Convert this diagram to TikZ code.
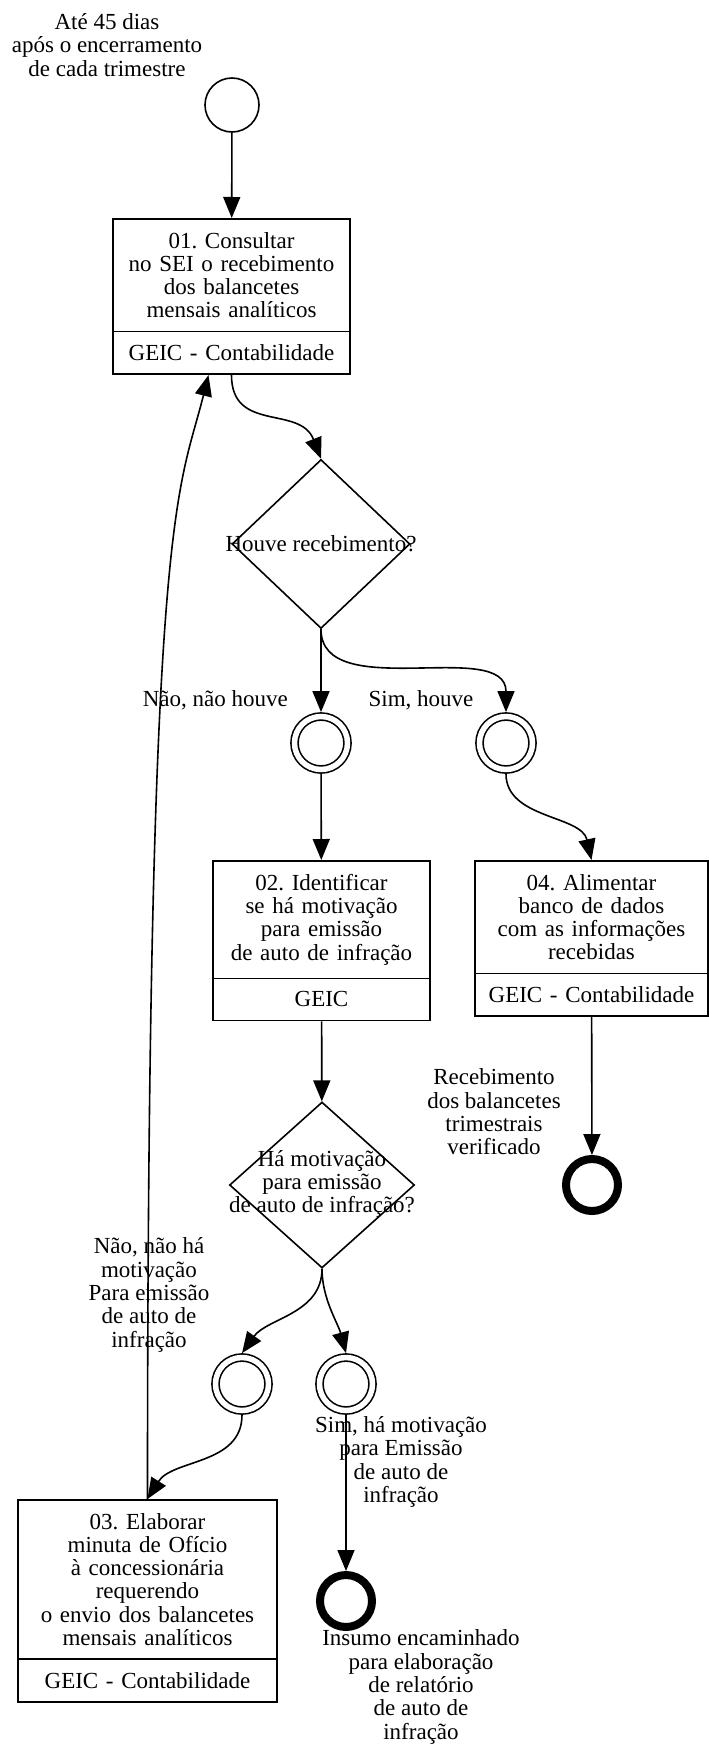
\documentclass[tikz,border=0pt]{standalone}
\usepackage{fontspec}
\setmainfont{Liberation Serif}
\usetikzlibrary{shapes.geometric,shapes.multipart,arrows.meta}
\frenchspacing

\begin{document}
\begin{tikzpicture}[x=1pt, y=-1pt,
    every node/.style={font=\fontsize{23}{23.3}\selectfont},
    tarefa/.style={draw, line width=1.6pt, rectangle split, rectangle split parts=2,
        align=center, inner xsep=6pt, inner ysep=12.5pt, anchor=north},
    decisao/.style={draw, line width=1.6pt, diamond, inner sep=0pt},
    inicio/.style={draw, circle, line width=1.6pt, minimum size=54pt, inner sep=0pt},
    intermed/.style={draw, circle, line width=1.6pt, double, double distance=5.5pt,
        minimum size=53pt, inner sep=0pt, outer sep=4.4pt},
    fim/.style={draw, circle, line width=8pt, minimum size=52pt, inner sep=0pt, outer sep=4pt},
    rotulo/.style={align=center, inner sep=0pt},
    seta/.style={line width=1.6pt, -{Triangle[length=21pt,width=17pt]}}]

            \useasboundingbox (0,0) rectangle (709,1753);

            \node[inicio] (S) at (232, 105) {};
            \node[rotulo] (L0) at (107, 45) {Até 45 dias\\após o encerramento\\de cada trimestre};

            \node[tarefa, text width=225pt] (T1) at (231.5, 218) {01. Consultar\\no SEI o recebimento\\dos balancetes\\mensais analíticos
                \nodepart{two} GEIC - Contabilidade};
            \node[decisao, minimum width=178pt, minimum height=169pt] (D1) at (321, 544) {\makebox[0pt]{Houve recebimento?}};

            \node[intermed] (G1) at (321, 743) {};
            \node[intermed] (G2) at (506, 743) {};
            \node[rotulo, anchor=east] (L1) at (288, 700) {Não, não houve};
            \node[rotulo] (L2) at (421, 700) {Sim, houve};

            \node[tarefa, text width=205pt] (T2) at (321.5, 860) {02. Identificar\\se há motivação\\para emissão\\de auto de infração
                \nodepart{two} GEIC};
            \node[tarefa, text width=221pt] (T4) at (591.5, 860) {04. Alimentar\\banco de dados\\com as informações\\recebidas
                \nodepart{two} GEIC - Contabilidade};

            \node[decisao, minimum width=185pt, minimum height=166pt] (D2) at (322, 1185) {\makebox[0pt]{\begin{tabular}{@{}c@{}}Há motivação\\para emissão\\de auto de infração?\end{tabular}}};
            \node[fim] (E1) at (592, 1185) {};
            \node[rotulo] (L3) at (494, 1112) {Recebimento\\dos balancetes\\trimestrais\\verificado};

            \node[intermed] (G3) at (242, 1384) {};
            \node[intermed] (G4) at (346, 1384) {};
            \node[rotulo] (L4) at (149, 1295) {Não, não há\\motivação\\Para emissão\\de auto de\\infração};
            \node[rotulo] (L5) at (401, 1462) {Sim, há motivação\\para Emissão\\de auto de\\infração};

            \node[tarefa, text width=247pt] (T3) at (147.5, 1499) {03. Elaborar\\minuta de Ofício\\à concessionária\\requerendo\\o envio dos balancetes\\mensais analíticos
                \nodepart{two} GEIC - Contabilidade};
            \node[fim] (E2) at (346, 1601) {};
            \node[rotulo] (L6) at (421, 1687) {Insumo encaminhado\\para elaboração\\de relatório\\de auto de\\infração};

            \draw[seta] (S) -- (T1);
            \draw[seta] (T1.south) .. controls +(0,58) and +(-21,-54) .. (D1.north);
            \draw[seta] (D1.south) -- (G1);
            \draw[seta] (D1.south) .. controls +(0,75) and +(0,-75) .. (G2.north);
            \draw[seta] (G1) -- (T2);
            \draw[seta] (G2.south) .. controls +(0,45) and +(-10,-45) .. (T4.north);
            \draw[seta] (T2) -- (D2);
            \draw[seta] (T4) -- (E1);
            \draw[seta] (D2.south) .. controls +(0,45) and +(25,-35) .. (G3.north);
            \draw[seta] (D2.south) .. controls +(0,30) and +(-8,-30) .. (G4.north);
            \draw[seta] (G3.south) .. controls +(0,50) and +(25,-40) .. (T3.north);
            \draw[seta] (G4) -- (E2);
            \draw[seta] (T3.north) .. controls +(0,-999) and +(-30,120) .. ([xshift=-23pt]T1.south);

        \end{tikzpicture}
\end{document}
